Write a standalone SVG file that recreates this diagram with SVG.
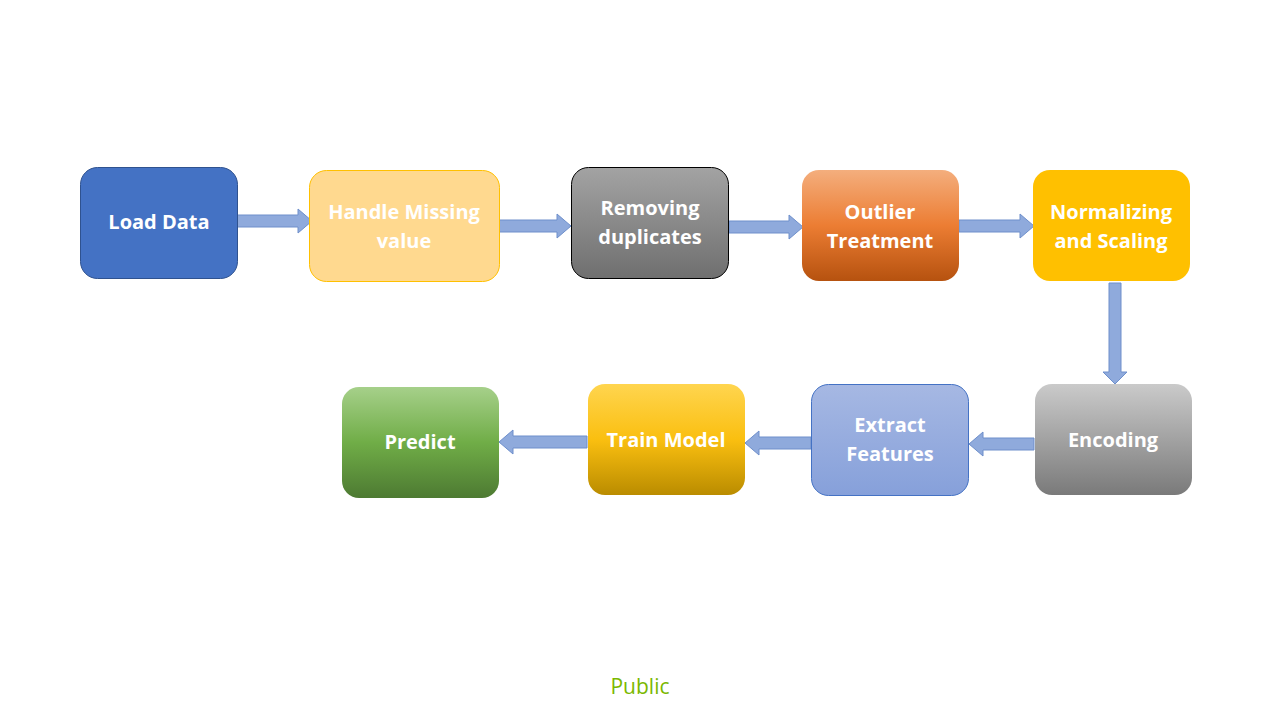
<svg xmlns="http://www.w3.org/2000/svg" width="1280" height="720" viewBox="0 0 1280 720">
<defs>
<linearGradient id="gGray" x1="0" y1="0" x2="0" y2="1"><stop offset="0" stop-color="#A3A3A3"/><stop offset="1" stop-color="#6F6F6F"/></linearGradient>
<linearGradient id="gOrange" x1="0" y1="0" x2="0" y2="1"><stop offset="0" stop-color="#F4AE7D"/><stop offset="0.5" stop-color="#EC7D33"/><stop offset="1" stop-color="#B6520F"/></linearGradient>
<linearGradient id="gEnc" x1="0" y1="0" x2="0" y2="1"><stop offset="0" stop-color="#CACACA"/><stop offset="1" stop-color="#7A7A7A"/></linearGradient>
<linearGradient id="gBlue" x1="0" y1="0" x2="0" y2="1"><stop offset="0" stop-color="#A6B8E3"/><stop offset="1" stop-color="#86A0DA"/></linearGradient>
<linearGradient id="gGold" x1="0" y1="0" x2="0" y2="1"><stop offset="0" stop-color="#FFD54F"/><stop offset="0.5" stop-color="#FABF10"/><stop offset="1" stop-color="#BA8C00"/></linearGradient>
<linearGradient id="gGreen" x1="0" y1="0" x2="0" y2="1"><stop offset="0" stop-color="#A6D08A"/><stop offset="0.5" stop-color="#70AD47"/><stop offset="1" stop-color="#4D7A32"/></linearGradient>
</defs>
<style>
.lbl{font-family:"Open Sans","Liberation Sans",sans-serif;font-weight:bold;font-size:20px;fill:#FFFFFF;text-anchor:middle}
.arr{fill:#8FAADC;stroke:#6E8FCB;stroke-width:1}
</style>
<rect width="1280" height="720" fill="#FFFFFF"/>
<g id="connectors">
<polygon class="arr" points="237,215 298,215 298,209 312,221 298,233 298,227 237,227"/>
<polygon class="arr" points="497,220 557,220 557,214 571,226 557,238 557,232 497,232"/>
<polygon class="arr" points="729,221 789,221 789,215 803,227 789,239 789,233 729,233"/>
<polygon class="arr" points="959,220 1020,220 1020,214 1034,226 1020,238 1020,232 959,232"/>
<polygon class="arr" points="1109,283 1121,283 1121,372 1127,372 1115,384 1103,372 1109,372"/>
<polygon class="arr" points="1034,438 983,438 983,432 969,444 983,456 983,450 1034,450"/>
<polygon class="arr" points="811,437 759,437 759,431 745,443 759,455 759,449 811,449"/>
<polygon class="arr" points="587,436 513,436 513,430 499,442 513,454 513,448 587,448"/>
</g>
<g id="load-data">
<rect x="80.5" y="167.5" width="157" height="111" rx="17" fill="#4472C4" stroke="#2F528F"/>
<text class="lbl" x="159" y="229">Load Data</text>
</g>
<g id="handle-missing">
<rect x="309.5" y="170.5" width="190" height="111" rx="17" fill="#FFD98F" stroke="#FFC000"/>
<text class="lbl" x="404" y="219">Handle Missing</text>
<text class="lbl" x="404" y="248">value</text>
</g>
<g id="removing-duplicates">
<rect x="571.5" y="167.5" width="157" height="111" rx="17" fill="url(#gGray)" stroke="#000000"/>
<text class="lbl" x="650" y="215">Removing</text>
<text class="lbl" x="650" y="244">duplicates</text>
</g>
<g id="outlier-treatment">
<rect x="802" y="170" width="157" height="111" rx="17" fill="url(#gOrange)"/>
<text class="lbl" x="880" y="219">Outlier</text>
<text class="lbl" x="880" y="248">Treatment</text>
</g>
<g id="normalizing">
<rect x="1033" y="170" width="157" height="111" rx="17" fill="#FFC000"/>
<text class="lbl" x="1111" y="219">Normalizing</text>
<text class="lbl" x="1111" y="248">and Scaling</text>
</g>
<g id="encoding">
<rect x="1035" y="384" width="157" height="111" rx="17" fill="url(#gEnc)"/>
<text class="lbl" x="1113" y="447">Encoding</text>
</g>
<g id="extract-features">
<rect x="811.5" y="384.5" width="157" height="111" rx="17" fill="url(#gBlue)" stroke="#4472C4"/>
<text class="lbl" x="890" y="432">Extract</text>
<text class="lbl" x="890" y="461">Features</text>
</g>
<g id="train-model">
<rect x="588" y="384" width="157" height="111" rx="17" fill="url(#gGold)"/>
<text class="lbl" x="666" y="447">Train Model</text>
</g>
<g id="predict">
<rect x="342" y="387" width="157" height="111" rx="17" fill="url(#gGreen)"/>
<text class="lbl" x="420" y="449">Predict</text>
</g>
<text x="640" y="694" font-family="'Open Sans','Liberation Sans',sans-serif" font-size="21" fill="#7AB800" text-anchor="middle">Public</text>
</svg>
